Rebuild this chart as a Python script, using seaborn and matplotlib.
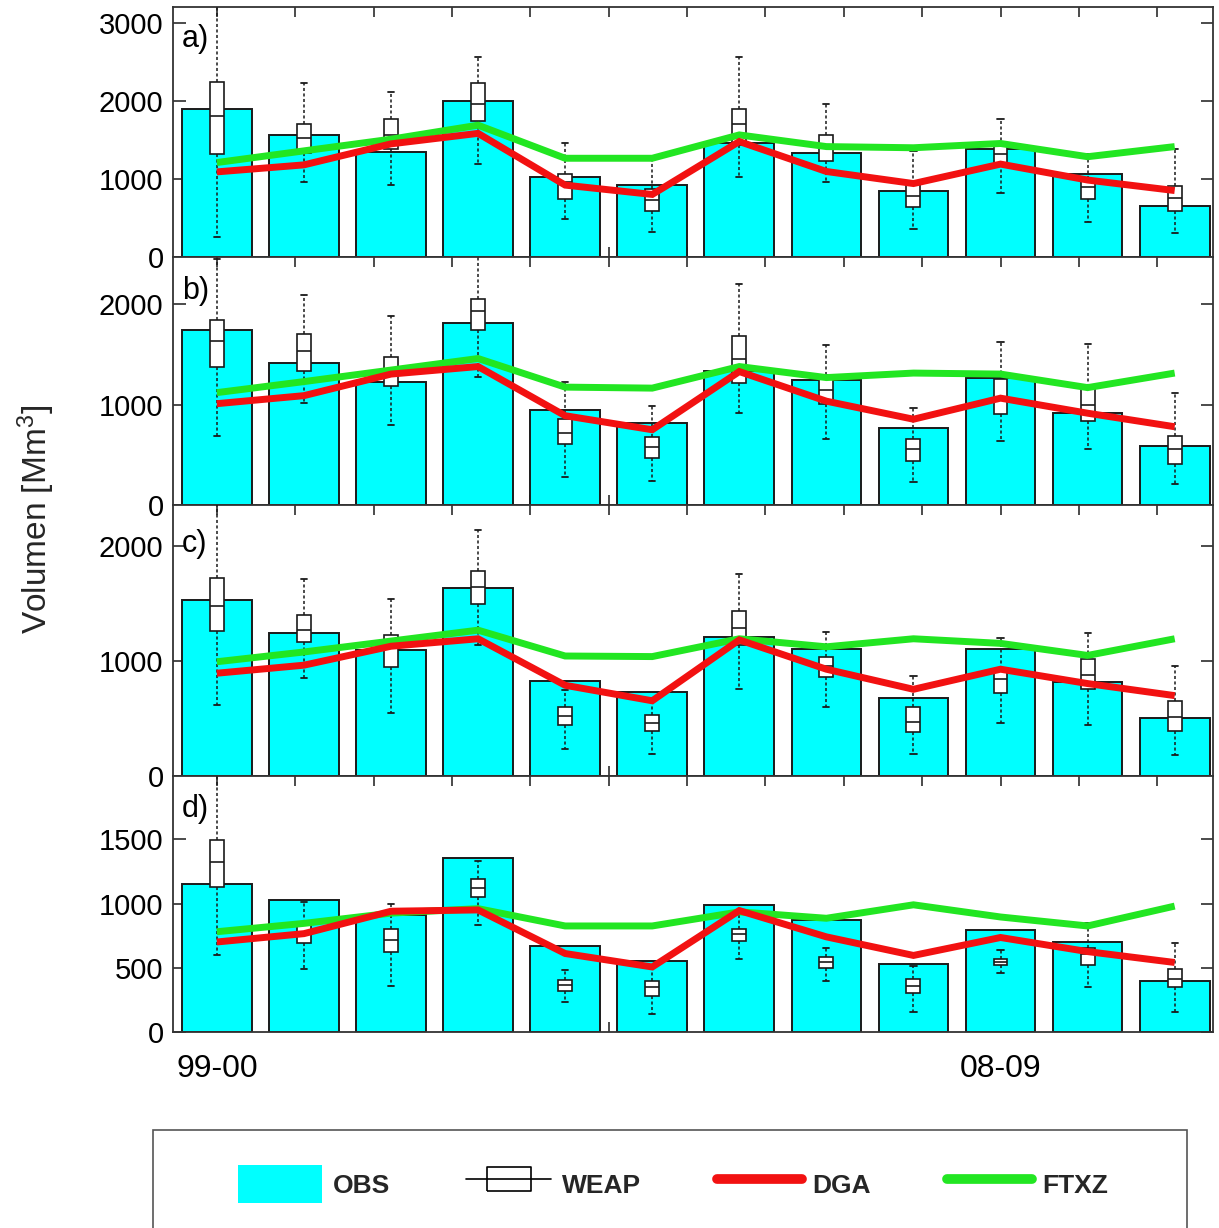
import numpy as np
import pandas as pd
import matplotlib
matplotlib.use("Agg")
import matplotlib.pyplot as plt
import seaborn as sns
from matplotlib.patches import Patch, Rectangle
from matplotlib.lines import Line2D

# ---------------- data ----------------
positions = list(range(12))
panel_labels = ["a)", "b)", "c)", "d)"]
xtick_labels = {0: "99-00", 10: "08-09"}

obs_a = [1900, 1560, 1340, 2005, 1030, 920, 1455, 1335, 845, 1390, 1065, 655]
dga_a = [1090, 1180, 1450, 1585, 920, 800, 1480, 1095, 940, 1190, 985, 850]
ftxz_a = [1210, 1360, 1510, 1690, 1265, 1265, 1565, 1415, 1400, 1455, 1285, 1415]
hi_a = [3400, 2230, 2120, 2570, 1460, 1295, 2570, 1960, 1360, 1770, 1320, 1390]
q3_a = [2250, 1705, 1765, 2230, 1065, 875, 1895, 1570, 935, 1425, 1000, 910]
med_a = [1810, 1520, 1570, 1960, 965, 735, 1700, 1400, 785, 1315, 890, 750]
q1_a = [1320, 1330, 1390, 1745, 740, 590, 1430, 1230, 645, 1190, 740, 585]
lo_a = [250, 965, 920, 1185, 480, 315, 1020, 965, 350, 825, 440, 310]

obs_b = [1745, 1420, 1225, 1810, 945, 820, 1335, 1245, 770, 1265, 915, 590]
dga_b = [1010, 1090, 1305, 1380, 890, 750, 1330, 1035, 855, 1065, 915, 780]
ftxz_b = [1120, 1230, 1345, 1460, 1175, 1165, 1380, 1270, 1315, 1305, 1170, 1315]
hi_b = [2450, 2090, 1885, 2700, 1225, 990, 2200, 1590, 965, 1620, 1600, 1115]
q3_b = [1845, 1700, 1480, 2050, 855, 675, 1680, 1295, 660, 1255, 1175, 690]
med_b = [1630, 1535, 1330, 1930, 720, 575, 1460, 1145, 555, 1065, 995, 560]
q1_b = [1380, 1335, 1185, 1740, 605, 465, 1220, 1005, 440, 905, 835, 405]
lo_b = [690, 1020, 800, 1275, 280, 240, 920, 660, 225, 640, 555, 210]

obs_c = [1530, 1245, 1095, 1640, 830, 730, 1210, 1105, 675, 1105, 820, 505]
dga_c = [895, 965, 1130, 1195, 790, 655, 1185, 930, 755, 930, 805, 700]
ftxz_c = [995, 1080, 1175, 1270, 1045, 1040, 1195, 1125, 1195, 1155, 1050, 1195]
hi_c = [2600, 1715, 1545, 2140, 750, 680, 1755, 1250, 870, 1205, 1245, 960]
q3_c = [1720, 1405, 1225, 1785, 600, 530, 1435, 1040, 605, 930, 1015, 650]
med_c = [1480, 1270, 1115, 1650, 525, 460, 1285, 960, 470, 845, 880, 510]
q1_c = [1265, 1170, 945, 1495, 445, 395, 1140, 865, 380, 725, 760, 395]
lo_c = [615, 855, 550, 1145, 235, 195, 755, 605, 190, 465, 445, 185]

obs_d = [1155, 1025, 910, 1355, 665, 555, 990, 870, 525, 795, 700, 395]
dga_d = [700, 765, 940, 950, 610, 505, 945, 740, 595, 735, 625, 540]
ftxz_d = [780, 845, 925, 960, 825, 825, 935, 885, 990, 895, 825, 980]
hi_d = [2200, 1015, 995, 1330, 480, 505, 925, 655, 515, 635, 850, 695]
q3_d = [1495, 845, 800, 1190, 400, 395, 805, 585, 410, 570, 655, 490]
med_d = [1325, 770, 715, 1120, 365, 345, 760, 545, 355, 545, 610, 410]
q1_d = [1130, 695, 620, 1050, 320, 280, 710, 500, 300, 520, 520, 350]
lo_d = [600, 490, 355, 835, 230, 135, 570, 395, 150, 455, 345, 150]

y_max = [3205, 2475, 2360, 1995]
y_ticks = [[0, 1000, 2000, 3000], [0, 1000, 2000], [0, 1000, 2000], [0, 500, 1000, 1500]]

panels = [
    (obs_a, dga_a, ftxz_a, lo_a, q1_a, med_a, q3_a, hi_a),
    (obs_b, dga_b, ftxz_b, lo_b, q1_b, med_b, q3_b, hi_b),
    (obs_c, dga_c, ftxz_c, lo_c, q1_c, med_c, q3_c, hi_c),
    (obs_d, dga_d, ftxz_d, lo_d, q1_d, med_d, q3_d, hi_d),
]

# ---------------- style ----------------
sns.set_theme(style="ticks")
plt.rcParams["font.family"] = ["Liberation Sans", "DejaVu Sans"]
plt.rcParams["mathtext.default"] = "regular"

CYAN = "#00FFFF"
RED = "#F21111"
GREEN = "#22E622"
EDGE = "#1a1a1a"

W, H = 1219, 1228
fig = plt.figure(figsize=(W / 100, H / 100), dpi=100)

left_px, right_px = 173.3, 1213.0
rows_px = [(7.3, 256.7), (256.7, 505.0), (505.0, 776.0), (776.0, 1031.7)]
label_drop = [12, 14, 17, 13]   # points below the panel top

FS = 21
tick_pos = [k * 0.9 for k in range(13)]

for i, (top, bot) in enumerate(rows_px):
    ax = fig.add_axes([left_px / W, 1 - bot / H, (right_px - left_px) / W, (bot - top) / H])
    obs, dga, ftxz, lo, q1, med, q3, hi = panels[i]

    df = pd.DataFrame({"pos": positions, "obs": obs, "dga": dga, "ftxz": ftxz})

    sns.barplot(data=df, x="pos", y="obs", color=CYAN, saturation=1,
                edgecolor=EDGE, linewidth=1.4, width=0.8, ax=ax, zorder=1)

    stats = [dict(whislo=lo[j], q1=q1[j], med=med[j], q3=q3[j], whishi=hi[j], fliers=[])
             for j in range(len(positions))]
    ax.bxp(stats, positions=positions, widths=0.16, capwidths=0.07,
           showfliers=False, patch_artist=True, manage_ticks=False,
           boxprops=dict(facecolor="white", edgecolor=EDGE, linewidth=1.2),
           whiskerprops=dict(color=EDGE, linewidth=1.1, linestyle=(0, (2.0, 1.6))),
           capprops=dict(color=EDGE, linewidth=1.3),
           medianprops=dict(color=EDGE, linewidth=1.2),
           zorder=3)

    sns.lineplot(data=df, x="pos", y="ftxz", color=GREEN, linewidth=5, ax=ax,
                 zorder=4, solid_capstyle="butt", solid_joinstyle="miter")
    sns.lineplot(data=df, x="pos", y="dga", color=RED, linewidth=5, ax=ax,
                 zorder=5, solid_capstyle="butt", solid_joinstyle="miter")

    ax.set_xlim(-0.5, 11.44)
    ax.set_ylim(0, y_max[i])
    ax.set_xlabel("")
    ax.set_ylabel("")
    ax.set_yticks(y_ticks[i])
    ax.set_yticklabels([str(v) for v in y_ticks[i]], fontsize=FS)

    ax.set_xticks(tick_pos)
    if i == 3:
        ax.set_xticklabels([xtick_labels.get(k, "") for k in range(13)], fontsize=23)
    else:
        ax.set_xticklabels([""] * 13)
    ax.tick_params(axis="x", which="major", direction="in", top=True, bottom=True,
                   length=7, width=1.1, pad=16, colors=EDGE, labelcolor="black")
    ax.tick_params(axis="y", which="major", direction="in", left=True, right=True,
                   length=9, width=1.1, pad=7, colors=EDGE, labelcolor="black")
    for sp in ax.spines.values():
        sp.set_color("#333333")
        sp.set_linewidth(1.3)
    ax.annotate(panel_labels[i], xy=(0, 1), xycoords="axes fraction",
                xytext=(6, -label_drop[i]), textcoords="offset points",
                ha="left", va="top", fontsize=22, color="black", zorder=6)

fig.text(0.030, 0.577, "Volumen [Mm$^3$]", rotation=90, ha="center", va="center",
         fontsize=24)

# ---------------- legend ----------------
frame = Rectangle((153 / W, -0.05), (1187 - 153) / W, 0.05 + (1 - 1130 / H),
                  transform=fig.transFigure, facecolor="white", edgecolor="#555555",
                  linewidth=1.2, zorder=0)
fig.patches.append(frame)

box_marker = [(-1, -0.55), (1, -0.55), (1, 0.55), (-1, 0.55), (-1, -0.55)]
handles = [
    Patch(facecolor=CYAN, edgecolor="none"),
    Line2D([], [], color="black", linewidth=1.2, marker=box_marker, markersize=32,
           markerfacecolor="none", markeredgecolor="black", markeredgewidth=1.2),
    Line2D([], [], color=RED, linewidth=7, solid_capstyle="round"),
    Line2D([], [], color=GREEN, linewidth=7, solid_capstyle="round"),
]
labels = ["OBS", "WEAP", "DGA", "FTXZ"]
fig.legend(handles, labels, loc="center", bbox_to_anchor=(0.552, 1 - 1184 / H), ncol=4,
           frameon=False, handlelength=3.2, handleheight=1.8, handletextpad=0.4,
           columnspacing=2.9,
           prop=dict(family=["Liberation Sans Narrow", "Liberation Sans", "DejaVu Sans"],
                     weight="bold", size=19))

fig.savefig("out.png", dpi=100, facecolor="white")
